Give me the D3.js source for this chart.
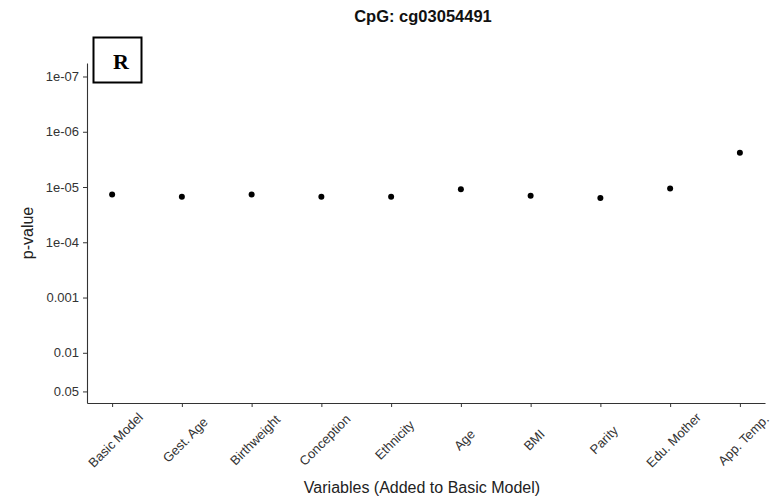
<!DOCTYPE html>
<html>
<head>
<meta charset="utf-8">
<script src="https://cdn.jsdelivr.net/npm/d3@7"></script>
<style>
  body { margin: 0; background: #fff; }
  svg { display: block; }
</style>
</head>
<body>
<div id="chart"></div>
<script>
// variables added to the basic model, and the p-value for each
var variables = ["Basic Model", "Gest. Age", "Birthweight", "Conception", "Ethnicity",
                 "Age", "BMI", "Parity", "Edu. Mother", "App. Temp."];
var pvalues = [1.36e-5, 1.50e-5, 1.36e-5, 1.50e-5, 1.50e-5,
               1.10e-5, 1.44e-5, 1.58e-5, 1.06e-5, 2.39e-6];
var yTicks = [1e-7, 1e-6, 1e-5, 1e-4, 0.001, 0.01, 0.05];
var yTickLabels = ["1e-07", "1e-06", "1e-05", "1e-04", "0.001", "0.01", "0.05"];

var width = 775,
    height = 503;
var margin = {top: 63, right: 10, bottom: 100, left: 87};

var svg = d3.select("#chart").append("svg")
    .attr("width", width)
    .attr("height", height);

var x = d3.scalePoint()
    .domain(variables)
    .range([margin.left, width - margin.right])
    .padding(0.36);

// log scale, small p-values at the top
var y = d3.scaleLog()
    .domain([5.7e-8, 0.081])
    .range([margin.top, height - margin.bottom]);

var font = "Liberation Sans, Arial, sans-serif";

// y axis
var yAxis = svg.append("g")
    .attr("transform", "translate(" + margin.left + ",0)")
    .call(d3.axisLeft(y)
        .tickValues(yTicks)
        .tickFormat(function (d, i) { return yTickLabels[i]; })
        .tickSize(4)
        .tickSizeOuter(0)
        .tickPadding(4));
yAxis.select(".domain").attr("stroke", "#333").attr("stroke-width", 1.1);
yAxis.selectAll(".tick line").attr("stroke", "#333");
yAxis.selectAll("text")
    .attr("fill", "#333")
    .style("font-family", font)
    .style("font-size", "13px");

// x axis
var xAxis = svg.append("g")
    .attr("transform", "translate(0," + (height - margin.bottom) + ")")
    .call(d3.axisBottom(x).tickSize(4).tickSizeOuter(0));
xAxis.select(".domain").attr("stroke", "#333").attr("stroke-width", 1.1);
xAxis.selectAll(".tick line").attr("stroke", "#333");
xAxis.selectAll("text")
    .attr("fill", "#333")
    .style("font-family", font)
    .style("font-size", "13px")
    .attr("text-anchor", "middle")
    .attr("dy", null)
    .attr("dominant-baseline", "central")
    .attr("y", 0)
    .attr("transform", "translate(3,37) rotate(-45)");

// points
svg.append("g").selectAll("circle")
    .data(variables)
    .enter().append("circle")
    .attr("cx", function (d) { return x(d); })
    .attr("cy", function (d, i) { return y(pvalues[i]); })
    .attr("r", 3)
    .attr("fill", "#000");

// titles
svg.append("text")
    .attr("x", 423)
    .attr("y", 22)
    .attr("text-anchor", "middle")
    .style("font-family", font)
    .style("font-size", "16.5px")
    .style("font-weight", "bold")
    .attr("fill", "#111")
    .text("CpG: cg03054491");

svg.append("text")
    .attr("transform", "translate(33," + ((margin.top + height - margin.bottom) / 2) + ") rotate(-90)")
    .attr("text-anchor", "middle")
    .style("font-family", font)
    .style("font-size", "16px")
    .attr("fill", "#222")
    .text("p-value");

svg.append("text")
    .attr("x", 422)
    .attr("y", 493)
    .attr("text-anchor", "middle")
    .style("font-family", font)
    .style("font-size", "16px")
    .attr("fill", "#222")
    .text("Variables (Added to Basic Model)");

// panel tag
svg.append("rect")
    .attr("x", 93.5)
    .attr("y", 37.5)
    .attr("width", 48)
    .attr("height", 45)
    .attr("fill", "#fff")
    .attr("stroke", "#000")
    .attr("stroke-width", 2);

svg.append("text")
    .attr("x", 121)
    .attr("y", 69)
    .attr("text-anchor", "middle")
    .style("font-family", "Liberation Serif, Times New Roman, serif")
    .style("font-size", "22px")
    .style("font-weight", "bold")
    .text("R");
</script>
</body>
</html>
